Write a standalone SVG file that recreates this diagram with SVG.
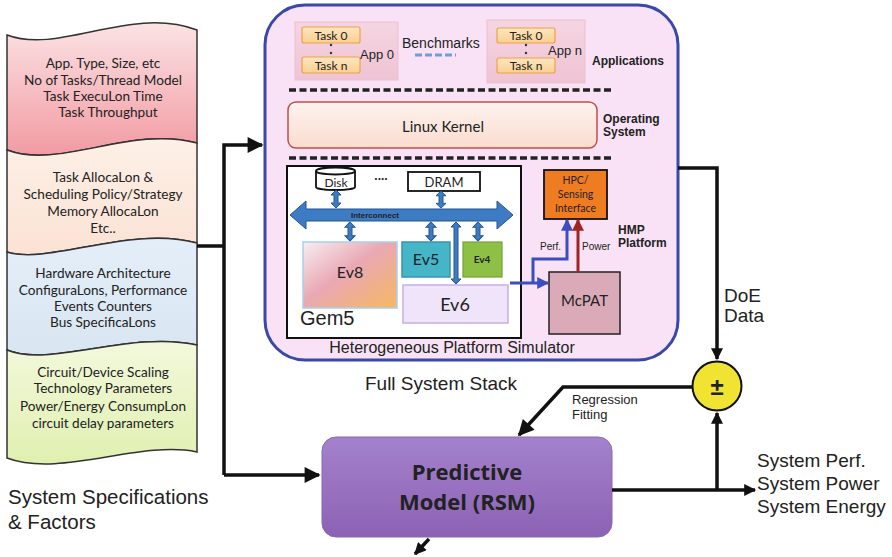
<svg xmlns="http://www.w3.org/2000/svg" width="892" height="557" viewBox="0 0 892 557">
<style>
.cal{font-family:Lato,"Open Sans","Liberation Sans",sans-serif;fill:#222}
.ar{font-family:"Liberation Sans",Arial,sans-serif;fill:#222}
.b{font-weight:bold}
.scroll{stroke:#333;stroke-width:1.5}
.wire{fill:none;stroke:#111;stroke-width:3.5}
.dash{stroke:#222;stroke-width:3.5;stroke-dasharray:7 3.5}
.bluearrow{fill:#3d7cc4;stroke:#23568e;stroke-width:1}
</style>
<defs>
<linearGradient id="gPink" x1="0" y1="0" x2="0" y2="1"><stop offset="0" stop-color="#fbe3e4"/><stop offset="1" stop-color="#f29aa2"/></linearGradient>
<linearGradient id="gPeach" x1="0" y1="0" x2="0" y2="1"><stop offset="0" stop-color="#fdf0e6"/><stop offset="1" stop-color="#fbe2d4"/></linearGradient>
<linearGradient id="gBlue" x1="0" y1="0" x2="0" y2="1"><stop offset="0" stop-color="#e4eef8"/><stop offset="1" stop-color="#d8e6f2"/></linearGradient>
<linearGradient id="gGreen" x1="0" y1="0" x2="0" y2="1"><stop offset="0" stop-color="#f3f8dc"/><stop offset="1" stop-color="#e0f0b0"/></linearGradient>
<linearGradient id="gKernel" x1="0" y1="0" x2="0" y2="1"><stop offset="0" stop-color="#fdf3ee"/><stop offset="1" stop-color="#fbdccf"/></linearGradient>
<linearGradient id="gTask" x1="0" y1="0" x2="0" y2="1"><stop offset="0" stop-color="#fde6c0"/><stop offset="1" stop-color="#fbcf90"/></linearGradient>
<linearGradient id="gApp" x1="0" y1="0" x2="0" y2="1"><stop offset="0" stop-color="#f5d5e2"/><stop offset="1" stop-color="#efc3d4"/></linearGradient>
<linearGradient id="gEv8" x1="0" y1="0" x2="1" y2="1"><stop offset="0" stop-color="#f8eef2"/><stop offset="0.45" stop-color="#e9a8b4"/><stop offset="1" stop-color="#f6b860"/></linearGradient>
<linearGradient id="gPred" x1="0" y1="0" x2="0" y2="1"><stop offset="0" stop-color="#a482cc"/><stop offset="1" stop-color="#8c62b4"/></linearGradient>
<marker id="ah" viewBox="0 0 10 10" refX="9" refY="5" markerWidth="18" markerHeight="16" markerUnits="userSpaceOnUse" orient="auto"><path d="M0,0 L10,5 L0,10 Z" fill="#111"/></marker>
<marker id="ahs" viewBox="0 0 10 10" refX="9" refY="5" markerWidth="13" markerHeight="12" markerUnits="userSpaceOnUse" orient="auto"><path d="M0,0 L10,5 L0,10 Z" fill="#111"/></marker>
<marker id="ahb" viewBox="0 0 10 10" refX="9" refY="5" markerWidth="12" markerHeight="12" markerUnits="userSpaceOnUse" orient="auto"><path d="M0,0 L10,5 L0,10 Z" fill="#3d4cc0"/></marker>
<marker id="ahr" viewBox="0 0 10 10" refX="9" refY="5" markerWidth="12" markerHeight="12" markerUnits="userSpaceOnUse" orient="auto"><path d="M0,0 L10,5 L0,10 Z" fill="#a02424"/></marker>
<path id="vda" d="M0,0 L5,5 L2,5 L2,13 L5,13 L0,18 L-5,13 L-2,13 L-2,5 L-5,5 Z"/>
</defs>
<rect width="892" height="557" fill="#fff"/>

<g id="specs">
<path class="scroll" fill="url(#gPink)" d="M7,35 C60,55 130,5 197,30 L197,143 C130,125 60,170 7,150 Z"/>
<path class="scroll" fill="url(#gPeach)" d="M7,150 C60,170 130,125 197,143 L197,243 C130,225 50,265 7,252 Z"/>
<path class="scroll" fill="url(#gBlue)" d="M7,252 C50,265 130,225 197,243 L197,345 C130,330 50,368 7,350 Z"/>
<path class="scroll" fill="url(#gGreen)" d="M7,350 C50,368 130,330 197,345 L197,452 C140,440 60,478 7,458 Z"/>
<g class="cal" font-size="13.6" text-anchor="middle">
<text x="103" y="68">App. Type, Size, etc</text>
<text x="103" y="85">No of Tasks/Thread Model</text>
<text x="103" y="101">Task ExecuLon Time</text>
<text x="108" y="117">Task Throughput</text>
<text x="103" y="182">Task AllocaLon &amp;</text>
<text x="103" y="199">Scheduling Policy/Strategy</text>
<text x="103" y="216">Memory AllocaLon</text>
<text x="103" y="233">Etc..</text>
<text x="103" y="278">Hardware Architecture</text>
<text x="103" y="295">ConfiguraLons, Performance</text>
<text x="103" y="311">Events Counters</text>
<text x="103" y="327">Bus SpecificaLons</text>
<text x="103" y="377">Circuit/Device Scaling</text>
<text x="103" y="393">Technology Parameters</text>
<text x="103" y="411">Power/Energy ConsumpLon</text>
<text x="103" y="428">circuit delay parameters</text>
</g>
<text class="ar" x="8" y="504" font-size="20.5">System Specifications</text>
<text class="ar" x="8" y="529" font-size="20.5">&amp; Factors</text>
</g>

<g id="stack">
<rect x="265" y="5" width="413" height="355" rx="40" fill="#f9e2f5" stroke="#3a48aa" stroke-width="3"/>
<g id="app0">
<rect x="295" y="22" width="103" height="58" fill="url(#gApp)" stroke="#ebc0d0" stroke-width="1"/>
<rect x="302" y="27" width="58" height="16" rx="2" fill="url(#gTask)" stroke="#eda24a" stroke-width="1.2"/>
<rect x="302" y="57" width="58" height="16" rx="2" fill="url(#gTask)" stroke="#eda24a" stroke-width="1.2"/>
<text class="cal" x="331" y="40" font-size="12" text-anchor="middle">Task 0</text>
<text class="cal" x="331" y="70" font-size="12" text-anchor="middle">Task n</text>
<circle cx="331" cy="45" r="1.2" fill="#333"/><circle cx="331" cy="53" r="1.2" fill="#333"/>
<text class="ar" x="360" y="59" font-size="13">App 0</text>
</g>
<text class="ar" x="402" y="48" font-size="14">Benchmarks</text>
<line x1="415" y1="55" x2="456" y2="55" stroke="#6b9fd6" stroke-width="3" stroke-dasharray="7 3"/>
<g id="appn">
<rect x="487" y="20" width="98" height="63" fill="url(#gApp)" stroke="#ebc0d0" stroke-width="1"/>
<rect x="497" y="28" width="58" height="15" rx="2" fill="url(#gTask)" stroke="#eda24a" stroke-width="1.2"/>
<rect x="497" y="58" width="58" height="15" rx="2" fill="url(#gTask)" stroke="#eda24a" stroke-width="1.2"/>
<text class="cal" x="526" y="40" font-size="12" text-anchor="middle">Task 0</text>
<text class="cal" x="526" y="70" font-size="12" text-anchor="middle">Task n</text>
<circle cx="526" cy="45" r="1.2" fill="#333"/><circle cx="526" cy="53" r="1.2" fill="#333"/>
<text class="ar" x="548" y="55" font-size="13">App n</text>
</g>
<text class="ar b" x="592" y="65" font-size="12">Applications</text>
<line class="dash" x1="289" y1="90" x2="612" y2="90"/>
<g id="kernel">
<rect x="288" y="102" width="309" height="46" rx="8" fill="url(#gKernel)" stroke="#c0504d" stroke-width="1.5"/>
<text class="cal" x="443" y="132" font-size="15" text-anchor="middle">Linux Kernel</text>
</g>
<text class="ar b" x="603" y="123" font-size="12">Operating</text>
<text class="ar b" x="603" y="136" font-size="12">System</text>
<line class="dash" x1="289" y1="158" x2="612" y2="158"/>

<g id="gem5">
<rect x="287" y="166" width="234" height="172" fill="#fff" stroke="#111" stroke-width="2"/>
<g id="disk">
<path d="M316,171 L316,187 A19.5,3 0 0 0 355,187 L355,171" fill="#fff" stroke="#111" stroke-width="1.8"/>
<ellipse cx="335.5" cy="171" rx="19.5" ry="3.5" fill="#fff" stroke="#111" stroke-width="1.8"/>
<text class="cal" x="336" y="187" font-size="12" text-anchor="middle">Disk</text>
</g>
<text class="ar b" x="381" y="180" font-size="12" text-anchor="middle">....</text>
<g id="dram">
<rect x="408" y="172" width="72" height="19" fill="#fff" stroke="#111" stroke-width="1.8"/>
<text class="cal" x="444" y="187" font-size="13" text-anchor="middle">DRAM</text>
</g>
<g id="interconnect">
<polygon class="bluearrow" points="290,215 306,201 306,209 497,209 497,201 513,215 497,229 497,221 306,221 306,229"/>
<text class="ar b" x="375" y="218" font-size="8" fill="#1a2a40" text-anchor="middle">Interconnect</text>
</g>
<use href="#vda" class="bluearrow" transform="translate(336,190) scale(1,1)"/>
<use href="#vda" class="bluearrow" transform="translate(441,191) scale(1,0.95)"/>
<use href="#vda" class="bluearrow" transform="translate(350,222) scale(1,1.05)"/>
<use href="#vda" class="bluearrow" transform="translate(431,222) scale(1,1.05)"/>
<use href="#vda" class="bluearrow" transform="translate(478,222) scale(1,1.05)"/>
<polygon class="bluearrow" points="456,222 461,227 458,227 458,279 461,279 456,284 451,279 454,279 454,227 451,227"/>
<g id="ev8">
<rect x="303" y="242" width="94" height="66" fill="url(#gEv8)" stroke="#a8d0ec" stroke-width="1.5"/>
<text class="cal" x="350" y="278" font-size="16" text-anchor="middle">Ev8</text>
</g>
<g id="ev5">
<rect x="402" y="242" width="48" height="35" fill="#45b5c8" stroke="#3a94ac" stroke-width="1.5"/>
<text class="cal" x="426" y="265" font-size="16" text-anchor="middle">Ev5</text>
</g>
<g id="ev4">
<rect x="463" y="242" width="39" height="35" fill="#8fc046" stroke="#74a234" stroke-width="1.2"/>
<text class="cal b" x="482" y="263" font-size="10" text-anchor="middle">Ev4</text>
</g>
<g id="ev6">
<rect x="403" y="285" width="105" height="38" fill="#efe4f9" stroke="#c6b0e2" stroke-width="1.5"/>
<text class="cal" x="455" y="311" font-size="18" text-anchor="middle">Ev6</text>
</g>
<text class="ar" x="300" y="325" font-size="20">Gem5</text>
</g>
<g id="hpc">
<rect x="544" y="170" width="63" height="49" fill="#f07c22" stroke="#111" stroke-width="1.8"/>
<g class="cal" font-size="10.5" text-anchor="middle">
<text x="575.5" y="184">HPC/</text>
<text x="575.5" y="198">Sensing</text>
<text x="575.5" y="212">Interface</text>
</g>
</g>
<g id="mcpat">
<rect x="549" y="272" width="71" height="62" fill="#dbaab9" stroke="#222" stroke-width="1.5"/>
<text class="cal" x="584.5" y="306" font-size="15" text-anchor="middle">McPAT</text>
</g>
<text class="ar" x="540" y="250" font-size="10">Perf.</text>
<text class="ar" x="582" y="250" font-size="10">Power</text>
<text class="ar b" x="618" y="234" font-size="12">HMP</text>
<text class="ar b" x="618" y="247" font-size="12">Platform</text>
<text class="ar" x="452" y="353" font-size="16" text-anchor="middle">Heterogeneous Platform Simulator</text>
</g>
<text class="ar" x="441" y="390" font-size="19" text-anchor="middle">Full System Stack</text>

<g id="pm">
<rect x="322" y="437" width="290" height="100" rx="14" fill="url(#gPred)" stroke="#8a68b0" stroke-width="1"/>
<text x="467" y="480" font-family="'Open Sans',Lato,sans-serif" font-weight="bold" font-size="22" fill="#222" text-anchor="middle">Predictive</text>
<text x="467" y="510" font-family="'Open Sans',Lato,sans-serif" font-weight="bold" font-size="22" fill="#222" text-anchor="middle">Model (RSM)</text>
</g>

<g id="sum">
<circle cx="717" cy="386" r="24.5" fill="#f1e332" stroke="#111" stroke-width="2"/>
<text class="ar b" x="717" y="395" font-size="24" text-anchor="middle">±</text>
</g>

<g id="connectors">
<polyline class="wire" points="197,246 224,246"/>
<polyline class="wire" points="224,475 224,145 262,145" marker-end="url(#ah)"/>
<polyline class="wire" points="224,475 319,475" marker-end="url(#ah)"/>
<polyline class="wire" points="678,168 717,168 717,359" marker-end="url(#ahs)" stroke-width="3"/>
<polyline class="wire" points="693,387 563,387 519,435" marker-end="url(#ah)"/>
<polyline class="wire" points="612,490 755,490" marker-end="url(#ahs)"/>
<polyline class="wire" points="717,490 717,413" marker-end="url(#ahs)"/>
<polyline class="wire" points="429,539 415,554" marker-end="url(#ahs)" stroke-width="2.5"/>
<polyline fill="none" stroke="#3d4cc0" stroke-width="3" points="510,283 548,283" marker-end="url(#ahb)"/>
<polyline fill="none" stroke="#3d4cc0" stroke-width="3" points="533,283 533,259 567,259 567,220" marker-end="url(#ahb)"/>
<polyline fill="none" stroke="#a02424" stroke-width="3" points="578,272 578,220" marker-end="url(#ahr)"/>
</g>
<text class="ar" x="572" y="404" font-size="13">Regression</text>
<text class="ar" x="572" y="419" font-size="13">Fitting</text>
<text class="ar" x="724" y="302" font-size="19">DoE</text>
<text class="ar" x="724" y="322" font-size="19">Data</text>
<text class="ar" x="757" y="467" font-size="19">System Perf.</text>
<text class="ar" x="757" y="490" font-size="19">System Power</text>
<text class="ar" x="757" y="513" font-size="19">System Energy</text>
</svg>
